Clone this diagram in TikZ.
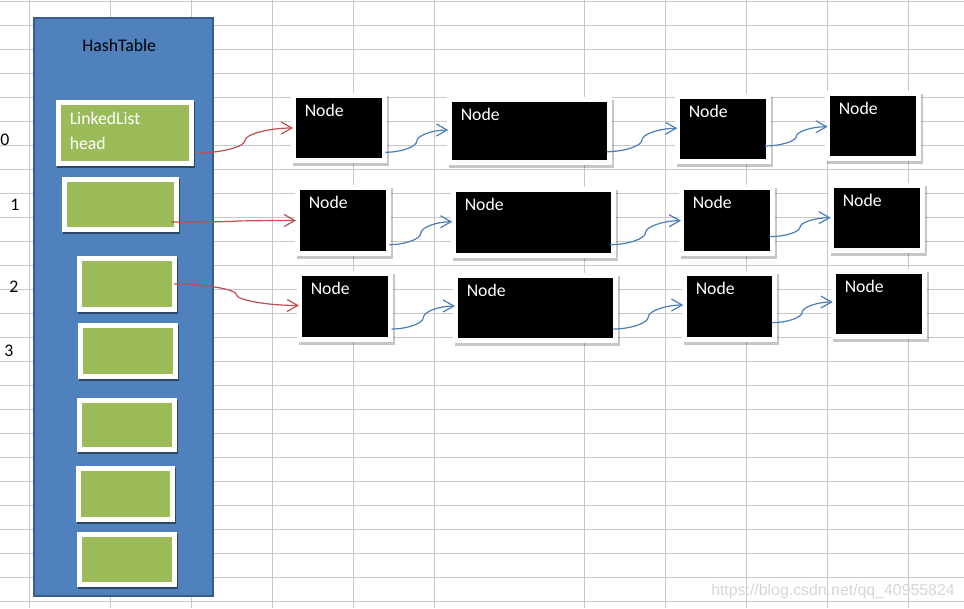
\documentclass[tikz,border=0pt]{standalone}
\usepackage{fontspec}
\setmainfont{Carlito}
\newfontfamily\wmfont{Liberation Sans}
\usetikzlibrary{calc,arrows.meta,shadows}
\definecolor{tblue}{HTML}{4F81BD}
\definecolor{tborder}{HTML}{385D8A}
\definecolor{tgreen}{HTML}{9BBB59}
\definecolor{tred}{HTML}{C0504D}
\definecolor{tarrow}{HTML}{4A7EBB}
\definecolor{gridc}{RGB}{200,200,200}
\newcommand\mkcell[6]{\node[#6, minimum width={(#4-#2)*0.75pt}, minimum height={(#5-#3)*0.75pt}] (#1) at ({(#2+#4)/2},{(#3+#5)/2}) {};}
\newcommand\mknode[5]{\mkcell{#1}{#2}{#3}{#4}{#5}{nodebox}\node[nodetxt] (#1t) at ([shift={(13.5,23.5)}]#1.north west) {Node};}
\tikzset{
  gridline/.style={draw=gridc, line width=0.75pt},
  framedbox/.style={rectangle, fill=white, inner sep=0pt, outer sep=0pt,
    path picture={\fill[#1] ([shift={(3.75pt,-3.75pt)}]path picture bounding box.north west) rectangle ([shift={(-3.75pt,3.75pt)}]path picture bounding box.south east);}},
  greenbox/.style={framedbox=tgreen, drop shadow={shadow xshift=0.75pt, shadow yshift=-1.8pt, opacity=0.45, fill=black}},
  nodebox/.style={framedbox=black, drop shadow={shadow xshift=1.2pt, shadow yshift=-2.2pt, opacity=0.22, fill=black}},
  nodetxt/.style={anchor=base west, inner sep=0pt, text=white},
  celltxt/.style={anchor=base west, inner sep=0pt, text=white},
  lbltxt/.style={anchor=base west, inner sep=0pt, text=black},
  curvedconn/.style={to path={let \p1=(\tikztostart), \p2=(\tikztotarget) in
    .. controls ({\x1+(\x2-\x1)/4},\y1) and ({(\x1+\x2)/2},{\y1+(\y2-\y1)/4}) ..
    ({(\x1+\x2)/2},{(\y1+\y2)/2})
    .. controls ({(\x1+\x2)/2},{\y1+3*(\y2-\y1)/4}) and ({\x1+3*(\x2-\x1)/4},\y2) .. (\p2)}},
  redarrow/.style={draw=tred, line width=0.9pt, -{Straight Barb[length=8pt,width=9pt]}, curvedconn},
  bluearrow/.style={draw=tarrow, line width=0.9pt, -{Straight Barb[length=8pt,width=9pt]}, curvedconn}
}
\begin{document}
\begin{tikzpicture}[x=0.75pt, y=-0.75pt, font=\fontsize{13.3}{16}\selectfont]
\useasboundingbox[fill=white] (0,0) rectangle (964,608);
% grid
\foreach \gx in {29.5,110.5,191.5,272.5,353.5,434.5,584.5,665.5,746.5,827.5,908.5}
  \draw[gridline] (\gx,0) -- (\gx,608);
\foreach \k in {0,...,25}
  \draw[gridline] (0,{1.3+24*\k}) -- (964,{1.3+24*\k});
% row labels
\node[lbltxt] (r0) at (0,145) {0};
\node[lbltxt] (r1) at (10,210.7) {1};
\node[lbltxt] (r2) at (9,292.3) {2};
\node[lbltxt] (r3) at (4,356) {3};
% hash table
\node[rectangle, draw=tborder, fill=tblue, line width=1.5pt, inner sep=0pt,
  minimum width={178.7*0.75pt}, minimum height={578*0.75pt}] (ht) at (123.65,307.3) {};
\node[anchor=base, inner sep=0pt, text=black] (htt) at (119.2,51.7) {HashTable};
% buckets
\mkcell{b0}{56}{100}{194}{166}{greenbox}
\mkcell{b1}{62}{177}{179}{232}{greenbox}
\mkcell{b2}{77}{256}{177}{312}{greenbox}
\mkcell{b3}{78}{323}{178}{379}{greenbox}
\mkcell{b4}{77}{398}{177}{452}{greenbox}
\mkcell{b5}{76}{466}{175}{522}{greenbox}
\mkcell{b6}{77}{532}{177}{587}{greenbox}
\node[celltxt] (b0ta) at ([shift={(13.5,24.7)}]b0.north west) {LinkedList};
\node[celltxt] (b0tb) at ([shift={(13.5,49)}]b0.north west) {head};
% list nodes
\mknode{n00}{291}{93}{387}{163}
\mknode{n01}{447}{97}{612}{165}
\mknode{n02}{675}{94}{771}{164}
\mknode{n03}{825}{91}{921}{161}
\mknode{n10}{295}{185}{391}{256}
\mknode{n11}{451}{187}{616}{258}
\mknode{n12}{679}{185}{775}{256}
\mknode{n13}{829}{183}{925}{253}
\mknode{n20}{297}{271}{393}{342}
\mknode{n21}{453}{273}{618}{343}
\mknode{n22}{682}{271}{777}{342}
\mknode{n23}{831}{269}{927}{339}
% red connectors
\draw[redarrow] ([shift={(3,-13)}]b0.south east) to ([shift={(2,0)}]n00.west);
\draw[redarrow] ([shift={(-8,17.5)}]b1.east) to ([shift={(1,0)}]n10.west);
\draw[redarrow] ([shift={(-3,0)}]b2.east) to ([shift={(2,-1)}]n20.west);
% blue connectors
\draw[bluearrow] ([shift={(-1.7,-10.7)}]n00.south east) to ([shift={(1.3,-1)}]n01.west);
\draw[bluearrow] ([shift={(-5.3,-13.3)}]n01.south east) to ([shift={(2.3,-0.7)}]n02.west);
\draw[bluearrow] ([shift={(-6,-18)}]n02.south east) to ([shift={(2.7,0.7)}]n03.west);
\draw[bluearrow] ([shift={(-1.7,-11.3)}]n10.south east) to ([shift={(1.3,-0.8)}]n11.west);
\draw[bluearrow] ([shift={(-6,-13.3)}]n11.south east) to ([shift={(2,0.2)}]n12.west);
\draw[bluearrow] ([shift={(-5.7,-19.3)}]n12.south east) to ([shift={(1.7,-0.3)}]n13.west);
\draw[bluearrow] ([shift={(-1.3,-13)}]n20.south east) to ([shift={(2,-2)}]n21.west);
\draw[bluearrow] ([shift={(-4.7,-14)}]n21.south east) to ([shift={(1.3,-1.5)}]n22.west);
\draw[bluearrow] ([shift={(-5.3,-19.3)}]n22.south east) to ([shift={(1.7,-2)}]n23.west);
% watermark
\node[anchor=base east, inner sep=0pt, text=black!16, font=\wmfont\fontsize{11.9}{14}\selectfont] (wm) at (955,595) {https://blog.csdn.net/qq\_40955824};
\end{tikzpicture}
\end{document}
